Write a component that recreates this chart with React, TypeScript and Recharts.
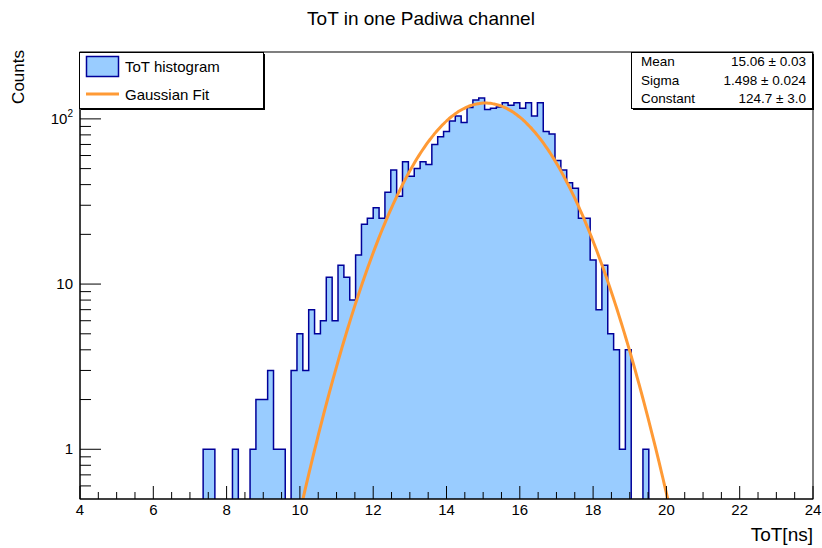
import { Area, ComposedChart, Line, XAxis, YAxis } from "recharts"

const FONT = '"Liberation Sans", Arial, Helvetica, sans-serif'

// histogram binning: 125 bins of 0.16 ns from 4 to 24 ns
const BIN_LOW = 4
const BIN_WIDTH = 0.16
const counts = [
  0, 0, 0, 0, 0, 0, 0, 0, 0, 0, 0, 0, 0, 0, 0, 0, 0, 0, 0, 0, 0,
  1, 1, 0, 0, 0, 1, 0, 0, 1, 2, 2, 3, 1, 1, 0, 3, 5, 3, 7, 5,
  6, 11, 6, 13, 11, 8, 15, 23, 25, 29, 25, 36, 49, 34, 55, 45, 50, 55, 53, 70,
  78, 84, 97, 104, 95, 117, 130, 134, 114, 116, 118, 125, 121, 125, 116, 125, 104, 125, 84, 81,
  56, 49, 41, 38, 25, 25, 14, 7, 13, 5, 4, 1, 4, 0, 0, 1,
  0, 0, 0, 0, 0, 0, 0, 0, 0, 0, 0, 0, 0, 0, 0, 0, 0, 0, 0, 0, 0, 0, 0, 0, 0, 0, 0, 0,
]

// gaussian fit result
const FIT_CONSTANT = 124.7
const FIT_MEAN = 15.06
const FIT_SIGMA = 1.498

const statNames = ["Mean", "Sigma", "Constant"]
const statValues = ["15.06 \u00b1 0.03", "1.498 \u00b1 0.024", "124.7 \u00b1 3.0"]

const legendLabels = ["ToT histogram", "Gaussian Fit"]

const xTicks = Array.from({ length: 41 }, (_, k) => 4 + k * 0.5)
const yTicks = [0.6, 0.7, 0.8, 0.9, 1, 2, 3, 4, 5, 6, 7, 8, 9, 10, 20, 30, 40, 50, 60, 70, 80, 90, 100, 200]
const yLabels: Record<number, string> = { 1: "1", 10: "10", 100: "10" }

const Y_MIN = 0.5
const Y_MAX = 254
// empty bins are pushed below the log axis floor so the step drops out of the frame
const EMPTY_BIN = 0.1

const HIST_FILL = "#99ccff"
const HIST_LINE = "#000099"
const FIT_COLOR = "#ff9a35"

const histData = [
  ...counts.map((c, i) => ({ x: BIN_LOW + i * BIN_WIDTH, h: c > 0 ? c : EMPTY_BIN })),
  { x: BIN_LOW + counts.length * BIN_WIDTH, h: EMPTY_BIN },
]

const fitData: { x: number; f: number }[] = []
for (let x = 9.9; x <= 20.3; x += 0.05) {
  const z = (x - FIT_MEAN) / FIT_SIGMA
  fitData.push({ x, f: FIT_CONSTANT * Math.exp(-0.5 * z * z) })
}

function XTick({ x, y, payload }: any) {
  const v = payload.value
  const major = Math.abs(v % 2) < 1e-6
  return (
    <g>
      <line x1={x} y1={y} x2={x} y2={y - (major ? 13 : 7)} stroke="#000" strokeWidth={1} />
      {major && (
        <text x={x} y={y + 16} textAnchor="middle" fontSize={15} fill="#000" fontFamily={FONT}>
          {v}
        </text>
      )}
    </g>
  )
}

function YTick({ x, y, payload }: any) {
  const v = payload.value
  const label = yLabels[v]
  return (
    <g>
      <line x1={x} y1={y} x2={x + (label ? 21 : 11)} y2={y} stroke="#000" strokeWidth={1} />
      {label && (
        <text x={x - 7} y={y + 5} textAnchor="end" fontSize={15} fill="#000" fontFamily={FONT}>
          {label}
          {v === 100 && (
            <tspan dy={-7} fontSize={10}>
              2
            </tspan>
          )}
        </text>
      )}
    </g>
  )
}

export default function App() {
  return (
    <div style={{ position: "relative", width: 822, height: 548, background: "#fff", fontFamily: FONT }}>
      <style>{`body{margin:0}`}</style>
      <ComposedChart width={822} height={548} margin={{ top: 52, right: 9, bottom: 0, left: 0 }}>
        <XAxis
          type="number"
          dataKey="x"
          domain={[4, 24]}
          allowDataOverflow
          ticks={xTicks}
          interval={0}
          tickSize={0}
          tickMargin={0}
          tick={(p: any) => <XTick {...p} />}
          height={49}
          stroke="#000"
        />
        <YAxis
          type="number"
          scale="log"
          domain={[Y_MIN, Y_MAX]}
          allowDataOverflow
          ticks={yTicks}
          interval={0}
          tickSize={0}
          tickMargin={0}
          tick={(p: any) => <YTick {...p} />}
          width={80}
          stroke="#000"
        />
        <Area
          data={histData}
          dataKey="h"
          type="stepAfter"
          baseValue={Y_MIN}
          fill={HIST_FILL}
          fillOpacity={1}
          stroke={HIST_LINE}
          strokeWidth={1.5}
          isAnimationActive={false}
        />
        <Line
          data={fitData}
          dataKey="f"
          type="monotone"
          stroke={FIT_COLOR}
          strokeWidth={3}
          dot={false}
          isAnimationActive={false}
        />
      </ComposedChart>
      <svg
        width={822}
        height={548}
        style={{ position: "absolute", left: 0, top: 0, pointerEvents: "none" }}
        fontFamily={FONT}
      >
        <rect x={80} y={52} width={733} height={447} fill="none" stroke="#000" strokeWidth={1} />
        <text x={421} y={25} textAnchor="middle" fontSize={19} fill="#000">
          ToT in one Padiwa channel
        </text>
        <text x={24} y={50} transform="rotate(-90 24 50)" textAnchor="end" fontSize={17} fill="#000">
          Counts
        </text>
        <text x={813} y={541} textAnchor="end" fontSize={19} fill="#000">
          ToT[ns]
        </text>

        {/* legend */}
        <rect x={81} y={54} width={184} height={56} fill="#000" />
        <rect x={79.5} y={52.5} width={184} height={56} fill="#fff" stroke="#000" strokeWidth={1} />
        <rect x={86.5} y={56.5} width={32} height={20} fill={HIST_FILL} stroke={HIST_LINE} strokeWidth={1.5} />
        <text x={125} y={72} fontSize={15} fill="#000">
          {legendLabels[0]}
        </text>
        <line x1={86} y1={94} x2={119} y2={94} stroke={FIT_COLOR} strokeWidth={3} />
        <text x={125} y={100} fontSize={15} fill="#000">
          {legendLabels[1]}
        </text>

        {/* fit statistics */}
        <rect x={633} y={54} width={181} height={56} fill="#000" />
        <rect x={631.5} y={52.5} width={181} height={56} fill="#fff" stroke="#000" strokeWidth={1} />
        {statNames.map((name, i) => (
          <g key={name}>
            <text x={641} y={66 + i * 18.5} fontSize={13.5} fill="#000">
              {name}
            </text>
            <text x={806} y={66 + i * 18.5} fontSize={13.5} fill="#000" textAnchor="end">
              {statValues[i]}
            </text>
          </g>
        ))}
      </svg>
    </div>
  )
}
